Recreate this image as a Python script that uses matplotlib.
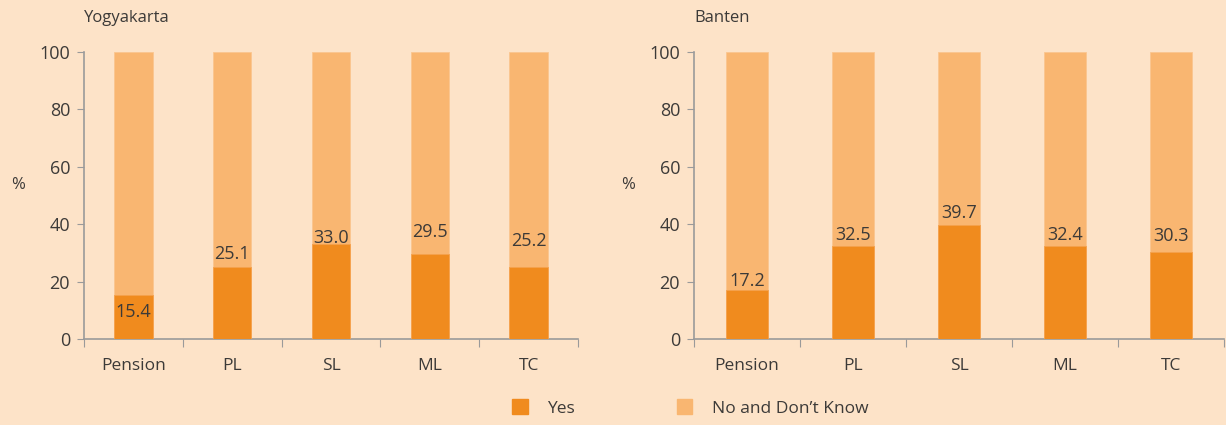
import numpy as np
import matplotlib
matplotlib.use("Agg")
import matplotlib.pyplot as plt
from matplotlib.patches import Patch

plt.rcParams["font.family"] = ["Open Sans", "DejaVu Sans"]

BG = "#FDE3C8"
DARK = "#F08B1E"
LIGHT = "#F9B671"
TXT = "#3C3A38"
SPINE = "#9A9A9A"

categories = ["Pension", "PL", "SL", "ML", "TC"]
regions = ["Yogyakarta", "Banten"]
yes_vals = {"Yogyakarta": [15.4, 25.1, 33.0, 29.5, 25.2],
            "Banten": [17.2, 32.5, 39.7, 32.4, 30.3]}
# label offsets (px, relative to top of "Yes" bar) as laid out in the reference
lab_off = {"Yogyakarta": [-17, 13, 6, 22, 26],
           "Banten": [9, 11, 12, 11, 16]}

W, H = 1226, 425
fig = plt.figure(figsize=(W / 100, H / 100), dpi=100, facecolor=BG)
boxes = [(84, 578), (694, 1224)]
y_top, y_bot = 52, 339

for reg, (xl, xr) in zip(regions, boxes):
    ax = fig.add_axes([xl / W, 1 - y_bot / H, (xr - xl) / W, (y_bot - y_top) / H])
    ax.set_facecolor(BG)
    x = np.arange(len(categories))
    yes = np.array(yes_vals[reg])
    ax.bar(x, 100 - yes, 0.39, bottom=yes, color=LIGHT, edgecolor="#FBC68F", lw=0.6, zorder=2)
    ax.bar(x, yes, 0.39, color=DARK, edgecolor="#F5A04A", lw=0.6, zorder=3)
    ax.set_xlim(-0.5, len(categories) - 0.5)
    ax.set_ylim(0, 100)
    ax.set_yticks(range(0, 101, 20))
    ax.set_xticks(np.arange(-0.5, len(categories), 1.0))
    ax.set_xticklabels([])
    ax.set_xticks(x, minor=True)
    ax.set_xticklabels(categories, minor=True)
    ax.tick_params(axis="x", which="major", length=6, color=SPINE, direction="out")
    ax.tick_params(axis="x", which="minor", length=0, pad=14, labelsize=12.5, labelcolor=TXT)
    ax.tick_params(axis="y", length=5, color=SPINE, labelsize=13, labelcolor=TXT, pad=5)
    for s in ["top", "right"]:
        ax.spines[s].set_visible(False)
    for s in ["left", "bottom"]:
        ax.spines[s].set_color(SPINE)
        ax.spines[s].set_linewidth(1.2)
    for xi, v, off in zip(x, yes, lab_off[reg]):
        ax.annotate(f"{v:.1f}", (xi, v), xytext=(0, off * 0.72), textcoords="offset points",
                    ha="center", va="center", fontsize=13, color=TXT, zorder=5)
    fig.text(xl / W, 1 - 18 / H, reg, ha="left", va="center", fontsize=12, color=TXT)
    fig.text((xl - 66) / W, 1 - 185 / H, "%", ha="center", va="center", fontsize=12, color=TXT)

handles = [Patch(color=DARK, label="Yes"), Patch(color=LIGHT, label="No and Don\u2019t Know")]
fig.legend(handles=handles, loc="center", bbox_to_anchor=(690 / W, 1 - 408 / H), ncol=2,
           frameon=False, fontsize=12.5, labelcolor=TXT, handlelength=0.9, handleheight=0.9,
           handletextpad=1.1, columnspacing=5.9)

fig.savefig("out.png", dpi=100, facecolor=BG)
